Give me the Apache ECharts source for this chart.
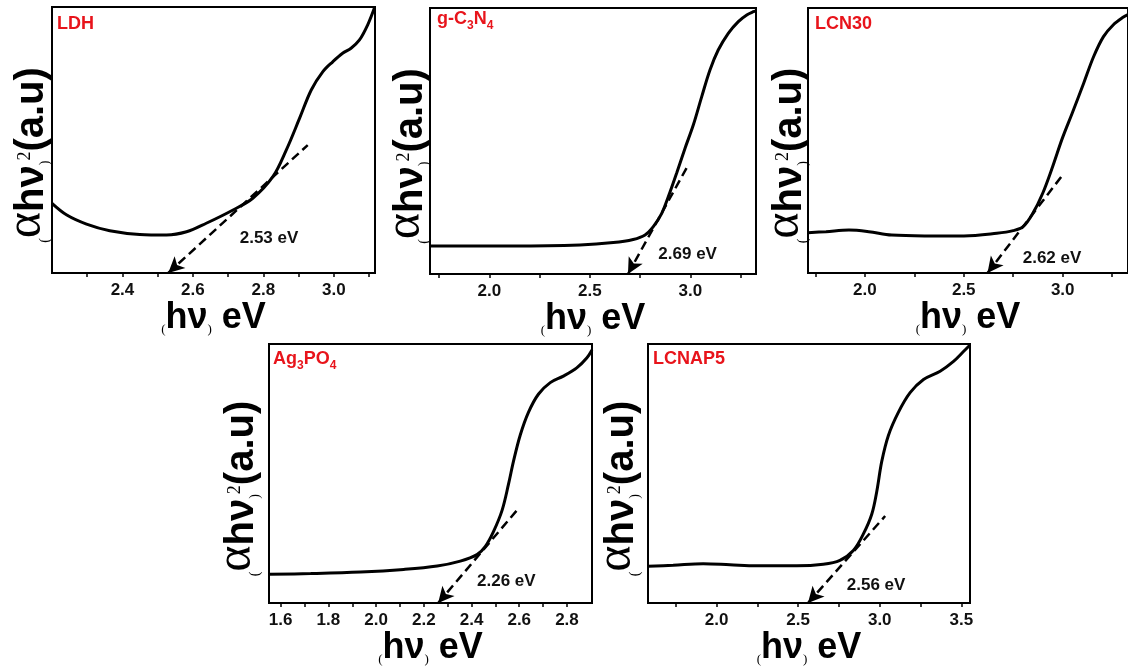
<!DOCTYPE html>
<html><head><meta charset="utf-8">
<script src="https://cdn.jsdelivr.net/npm/echarts@6/dist/echarts.min.js"></script>
<style>html,body{margin:0;padding:0;background:#fff}#c{width:1128px;height:667px}</style>
</head><body><div id="c"></div><script>
// ---------- data ----------
const sampleNames = ['LDH', 'g-C3N4', 'LCN30', 'Ag3PO4', 'LCNAP5'];
const ldhEnergy = [2.2, 2.242, 2.298, 2.364, 2.449, 2.525, 2.582, 2.638, 2.714, 2.770, 2.827, 2.865, 2.903, 2.936, 2.969, 2.997, 3.025, 3.049, 3.073, 3.096, 3.115];
const ldhAbs = [26.2, 21.8, 18.4, 15.9, 14.5, 14.3, 15.5, 18.7, 23.7, 28.1, 36.2, 46.2, 58.2, 68.8, 75.7, 79.4, 82.6, 84.5, 87.6, 93.2, 99.5];
const gcnEnergy = [1.705, 2.119, 2.451, 2.617, 2.716, 2.775, 2.816, 2.858, 2.891, 2.932, 2.974, 3.015, 3.057, 3.098, 3.139, 3.189, 3.239, 3.281, 3.314, 3.327];
const gcnAbs = [10.5, 10.5, 10.9, 11.8, 13.0, 14.7, 17.8, 22.8, 29.1, 37.9, 47.3, 56.0, 66.7, 76.7, 84.2, 90.5, 94.9, 97.4, 98.6, 98.9];
const lcnEnergy = [1.713, 1.804, 1.920, 2.020, 2.136, 2.302, 2.501, 2.667, 2.750, 2.800, 2.849, 2.899, 2.949, 2.998, 3.048, 3.106, 3.156, 3.206, 3.255, 3.305, 3.33];
const lcnAbs = [15.2, 15.6, 16.2, 15.6, 14.3, 14.0, 14.0, 15.0, 16.0, 17.5, 22.5, 30.1, 40.1, 50.8, 60.3, 71.6, 81.6, 89.2, 93.6, 96.5, 97.5];
const agpEnergy = [1.551, 1.726, 1.935, 2.116, 2.256, 2.353, 2.423, 2.458, 2.492, 2.528, 2.555, 2.576, 2.604, 2.639, 2.681, 2.730, 2.785, 2.841, 2.883, 2.905];
const agpAbs = [11.1, 11.4, 12.0, 13.0, 14.3, 16.2, 18.7, 21.9, 27.6, 35.8, 45.9, 54.8, 64.8, 73.7, 80.7, 85.1, 87.6, 90.8, 94.6, 97.7];
const lcnapEnergy = [1.58, 1.734, 1.918, 2.082, 2.245, 2.491, 2.654, 2.756, 2.838, 2.899, 2.951, 2.982, 3.012, 3.053, 3.114, 3.186, 3.268, 3.370, 3.452, 3.513, 3.553];
const lcnapAbs = [14.2, 14.6, 15.2, 14.8, 14.4, 14.4, 15.0, 16.5, 20.3, 26.6, 34.3, 43.2, 54.6, 64.7, 73.6, 81.2, 86.3, 89.5, 93.3, 97.1, 99.6];

const bandGaps = [2.53, 2.69, 2.62, 2.26, 2.56];
const tangentTopEnergy = [2.926, 2.99, 3.006, 2.59, 3.033];
const tangentTopAbs = [48.1, 41.0, 37.6, 35.8, 33.6];
const gapLabelEnergy = [2.733, 2.841, 2.798, 2.423, 2.798];
const gapLabelAbs = [13.2, 7.5, 5.5, 8.6, 7.0];

const xMin = [2.2, 1.705, 1.713, 1.551, 1.58];
const xMax = [3.117, 3.327, 3.33, 2.905, 3.553];
const tickValues = [
  [2.3, 2.4, 2.5, 2.6, 2.7, 2.8, 2.9, 3.0, 3.1],
  [1.75, 2.0, 2.25, 2.5, 2.75, 3.0, 3.25],
  [1.75, 2.0, 2.25, 2.5, 2.75, 3.0, 3.25],
  [1.6, 1.7, 1.8, 1.9, 2.0, 2.1, 2.2, 2.3, 2.4, 2.5, 2.6, 2.7, 2.8],
  [1.75, 2.0, 2.25, 2.5, 2.75, 3.0, 3.25, 3.5]
];
const labelValues = [
  [2.4, 2.6, 2.8, 3.0],
  [2.0, 2.5, 3.0],
  [2.0, 2.5, 3.0],
  [1.6, 1.8, 2.0, 2.2, 2.4, 2.6, 2.8],
  [2.0, 2.5, 3.0, 3.5]
];
const curveEnergy = [ldhEnergy, gcnEnergy, lcnEnergy, agpEnergy, lcnapEnergy];
const curveAbs = [ldhAbs, gcnAbs, lcnAbs, agpAbs, lcnapAbs];

// ---------- layout ----------
const gridBoxes = [
  {left: 52, top: 7, width: 323, height: 266},
  {left: 430, top: 8, width: 326, height: 266},
  {left: 808, top: 8, width: 326, height: 265},
  {left: 269, top: 344, width: 323, height: 264},
  {left: 648, top: 344, width: 322, height: 263}
];
const titlePos = [[57, 15], [437, 10], [815, 15], [273, 350], [653, 350]];
const yNameGap = [0, -1, -2, 7, 6];

const RED = '#e8141b';
const titleTexts = [
  '{n|LDH}',
  '{n|g-C}{s|3}{n|N}{s|4}',
  '{n|LCN30}',
  '{n|Ag}{s|3}{n|PO}{s|4}',
  '{n|LCNAP5}'
];

const grid = [], xAxis = [], yAxis = [], series = [], title = [];
const SANS = 'Liberation Sans, Arial, sans-serif';
const SERIF = 'Liberation Serif, Times New Roman, serif';

for (let i = 0; i < 5; i++) {
  grid.push(Object.assign({show: true, borderColor: '#000', borderWidth: 2, backgroundColor: 'transparent'}, gridBoxes[i]));
  xAxis.push({
    type: 'value', gridIndex: i, min: xMin[i], max: xMax[i],
    axisLine: {show: true, onZero: false, lineStyle: {color: '#000', width: 2}},
    axisTick: {show: true, inside: false, length: 4, lineStyle: {color: '#000', width: 1.5}, customValues: tickValues[i]},
    axisLabel: {show: true, customValues: labelValues[i], margin: 9, color: '#111',
      fontFamily: SANS, fontWeight: 'bold', fontSize: 17, formatter: v => v.toFixed(1)},
    splitLine: {show: false},
    name: '{p|(}{b|hν}{p|)}{b| eV}', nameLocation: 'middle', nameGap: 20,
    nameTextStyle: {rich: {
      p: {fontFamily: SERIF, fontSize: 13, lineHeight: 13, verticalAlign: 'bottom', color: '#000'},
      b: {fontFamily: SANS, fontWeight: 'bold', fontSize: 36, lineHeight: 36, verticalAlign: 'bottom', color: '#000'}
    }}
  });
  yAxis.push({
    type: 'value', gridIndex: i, min: 0, max: 100,
    axisLine: {show: true, lineStyle: {color: '#000', width: 2}},
    axisTick: {show: false}, axisLabel: {show: false}, splitLine: {show: false},
    name: '{p|(}{a|α}{b|hν}{p|)}{s|2}{b|(a.u)}', nameLocation: 'middle', nameRotate: 90, nameGap: yNameGap[i],
    nameTextStyle: {padding: [0, 30, 0, 0], rich: {
      p: {fontFamily: SERIF, fontSize: 14, lineHeight: 14, verticalAlign: 'bottom', color: '#000'},
      a: {fontFamily: SERIF, fontSize: 50, lineHeight: 44, verticalAlign: 'bottom', color: '#000'},
      b: {fontFamily: SANS, fontWeight: 'bold', fontSize: 40, lineHeight: 40, verticalAlign: 'bottom', color: '#000'},
      s: {fontFamily: SERIF, fontSize: 18, lineHeight: 18, verticalAlign: 'bottom', padding: [0, 0, 18, 0], color: '#000'}
    }}
  });
  // tangent (dashed, arrow at band-gap intercept)
  series.push({
    type: 'line', xAxisIndex: i, yAxisIndex: i, data: [], z: 2, silent: true,
    markLine: {
      silent: true, animation: false,
      symbol: ['arrow', 'none'], symbolSize: [12, 16],
      label: {show: false},
      lineStyle: {color: '#000', width: 2.5, type: [9, 5]},
      data: [[{coord: [bandGaps[i], 0]}, {coord: [tangentTopEnergy[i], tangentTopAbs[i]]}]]
    }
  });
  // absorption curve
  series.push({
    type: 'line', xAxisIndex: i, yAxisIndex: i, z: 3, silent: true,
    data: curveEnergy[i].map((e, k) => [e, curveAbs[i][k]]),
    smooth: 0.35, showSymbol: false, symbol: 'none',
    lineStyle: {color: '#000', width: 3},
    markPoint: {
      silent: true, animation: false, symbol: 'circle', symbolSize: 0,
      data: [{name: bandGaps[i].toFixed(2) + ' eV', coord: [gapLabelEnergy[i], gapLabelAbs[i]]}],
      label: {show: true, position: 'right', distance: 0, formatter: '{b}',
        fontFamily: SANS, fontWeight: 'bold', fontSize: 17, color: '#111'}
    }
  });
  title.push({
    text: titleTexts[i], left: titlePos[i][0], top: titlePos[i][1], padding: 0,
    textStyle: {rich: {
      n: {fontFamily: SANS, fontWeight: 'bold', fontSize: 18, lineHeight: 18, verticalAlign: 'bottom', color: RED},
      s: {fontFamily: SANS, fontWeight: 'bold', fontSize: 12, lineHeight: 12, verticalAlign: 'bottom', padding: [0, 0, -4, 0], color: RED}
    }}
  });
}

const chart = echarts.init(document.getElementById('c'), null, {renderer: 'canvas'});
chart.setOption({animation: false, backgroundColor: '#fff', title, grid, xAxis, yAxis, series});
</script></body></html>
